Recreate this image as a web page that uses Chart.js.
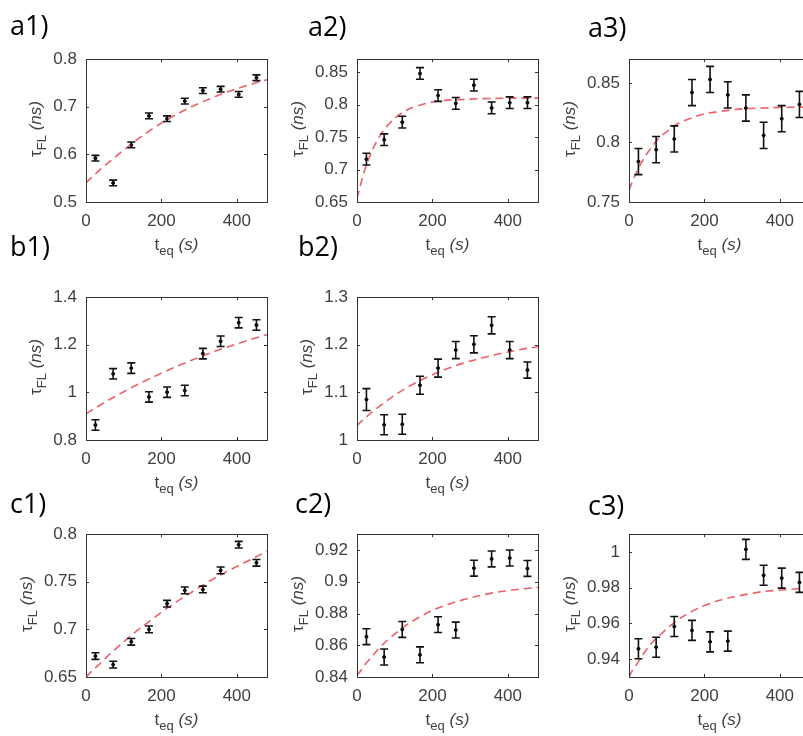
<!DOCTYPE html>
<html><head><meta charset="utf-8">
<script src="https://cdn.jsdelivr.net/npm/chart.js@4.4.1/dist/chart.umd.min.js"></script>
<style>
html,body{margin:0;padding:0;background:#fff;overflow:hidden;width:803px;height:736px;}
#wrap{position:relative;width:803px;height:736px;overflow:hidden;background:#fff;}
canvas{position:absolute;}
svg{position:absolute;left:0;top:0;pointer-events:none;}
</style></head><body><div id="wrap"></div>
<script>
// ---- data ----
const tEq = [25,72,120,167,215,262,310,357,405,452];
const fitX = [0,10,20,40,60,80,100,130,160,200,240,280,320,360,400,440,480];

const a1Val = [0.592,0.540,0.620,0.681,0.675,0.712,0.734,0.737,0.726,0.761];
const a1Err = [0.006,0.006,0.006,0.006,0.006,0.006,0.006,0.006,0.006,0.006];
const a1Fit = [0.540,0.548,0.555,0.570,0.583,0.596,0.609,0.628,0.645,0.666,0.684,0.700,0.714,0.727,0.738,0.748,0.757];
const a1Ticks = [0.5,0.6,0.7,0.8];

const a2Val = [0.716,0.746,0.773,0.848,0.814,0.802,0.830,0.795,0.803,0.803];
const a2Err = [0.009,0.009,0.009,0.009,0.009,0.009,0.009,0.009,0.009,0.009];
const a2Fit = [0.655,0.678,0.698,0.729,0.751,0.767,0.779,0.791,0.798,0.804,0.807,0.808,0.809,0.8095,0.810,0.810,0.810];
const a2Ticks = [0.65,0.7,0.75,0.8,0.85];

const a3Val = [0.784,0.794,0.803,0.842,0.853,0.840,0.829,0.806,0.820,0.832];
const a3Err = [0.011,0.011,0.011,0.011,0.011,0.011,0.011,0.011,0.011,0.011];
const a3Fit = [0.760,0.768,0.775,0.787,0.796,0.804,0.809,0.816,0.820,0.824,0.826,0.8277,0.8286,0.829,0.8295,0.8297,0.8298];
const a3Ticks = [0.75,0.8,0.85];

const b1Val = [0.863,1.078,1.102,0.981,1.001,1.008,1.163,1.215,1.293,1.283];
const b1Err = [0.022,0.022,0.022,0.022,0.022,0.022,0.022,0.022,0.022,0.022];
const b1Fit = [0.910,0.920,0.930,0.949,0.968,0.985,1.003,1.028,1.051,1.081,1.109,1.135,1.160,1.183,1.204,1.224,1.243];
const b1Ticks = [0.8,1,1.2,1.4];

const b2Val = [1.085,1.032,1.033,1.115,1.151,1.189,1.201,1.241,1.189,1.147];
const b2Err = [0.023,0.021,0.021,0.019,0.019,0.018,0.018,0.018,0.018,0.017];
const b2Fit = [1.030,1.038,1.045,1.059,1.071,1.083,1.094,1.109,1.122,1.137,1.150,1.161,1.170,1.178,1.185,1.191,1.196];
const b2Ticks = [1,1.1,1.2,1.3];

const c1Val = [0.672,0.663,0.687,0.700,0.727,0.741,0.742,0.762,0.789,0.770];
const c1Err = [0.0035,0.0035,0.0035,0.0035,0.0035,0.0035,0.0035,0.0035,0.0035,0.0035];
const c1Fit = [0.650,0.654,0.658,0.665,0.673,0.680,0.687,0.697,0.706,0.718,0.729,0.739,0.749,0.758,0.766,0.774,0.782];
const c1Ticks = [0.65,0.7,0.75,0.8];

const c2Val = [0.8654,0.8526,0.870,0.854,0.873,0.8696,0.9086,0.9144,0.915,0.9084];
const c2Err = [0.005,0.005,0.005,0.005,0.005,0.005,0.005,0.005,0.005,0.005];
const c2Fit = [0.841,0.844,0.8475,0.853,0.8585,0.863,0.867,0.8725,0.877,0.882,0.8856,0.8886,0.891,0.893,0.8944,0.8956,0.8965];
const c2Ticks = [0.84,0.86,0.88,0.9,0.92];

const c3Val = [0.9458,0.9467,0.9583,0.9561,0.9497,0.9501,1.0015,0.987,0.9854,0.983];
const c3Err = [0.0056,0.0056,0.0056,0.0056,0.0056,0.0056,0.0056,0.0056,0.0056,0.0056];
const c3Fit = [0.930,0.934,0.937,0.9435,0.949,0.953,0.957,0.962,0.966,0.970,0.973,0.975,0.9766,0.978,0.9786,0.9793,0.9797];
const c3Ticks = [0.94,0.96,0.98,1];

const xTicks = [0,200,400];
const xRange = [0,480];

// ---- layout ----
const colLeft = [86,357,629];
const rowTop = [52,290,527];
const PW = 181, PH = 150;
const YW = 60, XH = 30, PT = 12, PR = 12;
const TICK_FONT = '"Liberation Sans", Arial, sans-serif';
const TEXT_COL = '#404040';

const panels = [
  {name:'a1)', col:0,row:0, val:a1Val, err:a1Err, fit:a1Fit, ticks:a1Ticks, yr:[0.5,0.8],  lab:[10,35]},
  {name:'a2)', col:1,row:0, val:a2Val, err:a2Err, fit:a2Fit, ticks:a2Ticks, yr:[0.65,0.87], lab:[308,36]},
  {name:'a3)', col:2,row:0, val:a3Val, err:a3Err, fit:a3Fit, ticks:a3Ticks, yr:[0.75,0.87], lab:[588,37]},
  {name:'b1)', col:0,row:1, val:b1Val, err:b1Err, fit:b1Fit, ticks:b1Ticks, yr:[0.8,1.4],  lab:[10,256]},
  {name:'b2)', col:1,row:1, val:b2Val, err:b2Err, fit:b2Fit, ticks:b2Ticks, yr:[1,1.3],    lab:[298,256]},
  {name:'c1)', col:0,row:2, val:c1Val, err:c1Err, fit:c1Fit, ticks:c1Ticks, yr:[0.65,0.8], lab:[10,513]},
  {name:'c2)', col:1,row:2, val:c2Val, err:c2Err, fit:c2Fit, ticks:c2Ticks, yr:[0.84,0.93],lab:[295,513]},
  {name:'c3)', col:2,row:2, val:c3Val, err:c3Err, fit:c3Fit, ticks:c3Ticks, yr:[0.93,1.01],lab:[588,515]}
];

const fmt = v => String(Number(v.toFixed(3)));

const framePlugin = {
  id:'frame',
  afterDatasetsDraw(chart){
    const {ctx, chartArea:a, scales:{x,y}} = chart;
    ctx.save();
    ctx.strokeStyle = '#333';
    ctx.lineWidth = 1;
    ctx.strokeRect(Math.round(a.left)+0.5, Math.round(a.top)+0.5, Math.round(a.right-a.left), Math.round(a.bottom-a.top));
    const L = 3;
    ctx.beginPath();
    x.ticks.forEach(t=>{
      const px = Math.round(x.getPixelForValue(t.value))+0.5;
      ctx.moveTo(px, a.bottom); ctx.lineTo(px, a.bottom-L);
      ctx.moveTo(px, a.top); ctx.lineTo(px, a.top+L);
    });
    y.ticks.forEach(t=>{
      const py = Math.round(y.getPixelForValue(t.value))+0.5;
      ctx.moveTo(a.left, py); ctx.lineTo(a.left+L, py);
      ctx.moveTo(a.right, py); ctx.lineTo(a.right-L, py);
    });
    ctx.stroke();
    ctx.restore();
  }
};

const errPlugin = {
  id:'errbars',
  afterDatasetsDraw(chart){
    const {ctx, scales:{x,y}} = chart;
    const ds = chart.data.datasets[1];
    ctx.save();
    ctx.strokeStyle = '#111';
    ctx.lineWidth = 1.6;
    ds.data.forEach((p,i)=>{
      const e = ds.errs[i];
      const px = x.getPixelForValue(p.x);
      const yt = y.getPixelForValue(p.y+e);
      const yb = y.getPixelForValue(p.y-e);
      ctx.beginPath();
      ctx.moveTo(px, yt); ctx.lineTo(px, yb);
      ctx.moveTo(px-4, yt); ctx.lineTo(px+4, yt);
      ctx.moveTo(px-4, yb); ctx.lineTo(px+4, yb);
      ctx.stroke();
    });
    ctx.restore();
  }
};

const wrap = document.getElementById('wrap');
const mctx = document.createElement('canvas').getContext('2d');
mctx.font = '17px ' + TICK_FONT;

panels.forEach(p=>{
  const cv = document.createElement('canvas');
  const W = PW + YW + PR, H = PH + PT + XH;
  cv.width = W; cv.height = H;
  cv.style.left = (colLeft[p.col]-YW)+'px';
  cv.style.top = (rowTop[p.row]-PT)+'px';
  cv.style.width = W+'px'; cv.style.height = H+'px';
  wrap.appendChild(cv);
  new Chart(cv, {
    type:'scatter',
    data:{datasets:[
      {type:'line', data: fitX.map((x,i)=>({x, y:p.fit[i]})), borderColor:'rgba(232,80,88,0.9)', borderWidth:1.6,
       borderDash:[8,5], pointRadius:0, fill:false, cubicInterpolationMode:'monotone'},
      {data: tEq.map((x,i)=>({x, y:p.val[i]})), errs:p.err, pointRadius:1.5, pointBackgroundColor:'#000',
       pointBorderColor:'#000', showLine:false}
    ]},
    options:{
      responsive:false, animation:false, devicePixelRatio:1,
      layout:{padding:{left:0, top:PT, right:PR, bottom:0}},
      plugins:{legend:{display:false}, tooltip:{enabled:false}},
      scales:{
        x:{type:'linear', min:xRange[0], max:xRange[1],
           grid:{display:false, drawTicks:false}, border:{display:false},
           afterBuildTicks: s => { s.ticks = xTicks.map(v=>({value:v})); },
           afterFit: s => { s.height = XH; },
           ticks:{padding:9, color:TEXT_COL, font:{family:TICK_FONT, size:17}, maxRotation:0, autoSkip:false, callback:v=>fmt(v)}},
        y:{type:'linear', min:p.yr[0], max:p.yr[1],
           grid:{display:false, drawTicks:false}, border:{display:false},
           afterBuildTicks: s => { s.ticks = p.ticks.map(v=>({value:v})); },
           afterFit: s => { s.width = YW; },
           ticks:{padding:9, color:TEXT_COL, font:{family:TICK_FONT, size:17}, autoSkip:false, callback:v=>fmt(v)}}
      }
    },
    plugins:[framePlugin, errPlugin]
  });
});

// ---- text overlay (SVG real text) ----
const NS = 'http://www.w3.org/2000/svg';
const svg = document.createElementNS(NS,'svg');
svg.setAttribute('width','803'); svg.setAttribute('height','736');
wrap.appendChild(svg);
function el(tag, attrs, parent){
  const e = document.createElementNS(NS, tag);
  for (const k in attrs) e.setAttribute(k, attrs[k]);
  (parent||svg).appendChild(e); return e;
}
function tsp(parent, txt, attrs){ const t = el('tspan', attrs||{}, parent); t.textContent = txt; return t; }

panels.forEach(p=>{
  const left = colLeft[p.col], top = rowTop[p.row];
  // panel label
  const lb = el('text',{x:p.lab[0], y:p.lab[1], 'font-family':'"Open Sans", "Noto Sans", sans-serif', 'font-size':'27', fill:'#000'});
  lb.textContent = p.name;
  // x title
  const xt = el('text',{x:left+PW/2, y:top+PH+48, 'text-anchor':'middle', 'font-family':TICK_FONT, 'font-size':'17', fill:TEXT_COL});
  tsp(xt,'t');
  tsp(xt,'eq',{dy:'5','font-size':'13'});
  tsp(xt,'\u00a0',{dy:'-5'});
  tsp(xt,'(s)',{'font-style':'italic'});
  // y title
  const tw = Math.max(...p.ticks.map(v=>mctx.measureText(fmt(v)).width));
  const bx = left - tw - 21, cy = top + PH/2 + 2;
  const yt = el('text',{transform:`translate(${bx},${cy}) rotate(-90)`, x:0, y:0, 'text-anchor':'middle', 'font-family':TICK_FONT, 'font-size':'17', fill:TEXT_COL});
  tsp(yt,'\u03c4');
  tsp(yt,'FL',{dy:'5','font-size':'13'});
  tsp(yt,'\u00a0',{dy:'-5'});
  tsp(yt,'(ns)',{'font-style':'italic'});
});
</script>
</body></html>
